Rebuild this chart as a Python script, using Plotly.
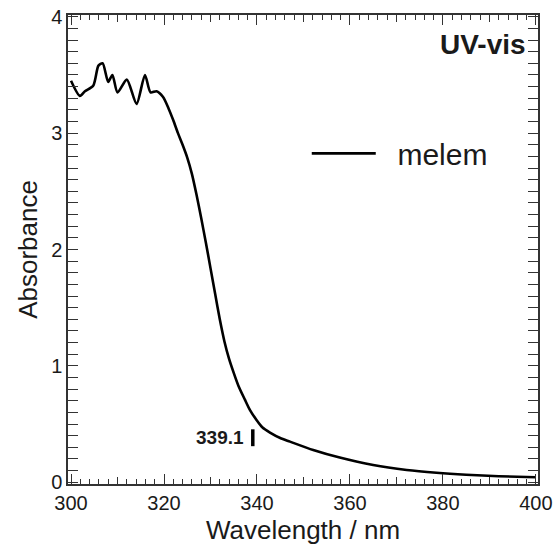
import plotly.graph_objects as go

# UV-vis absorption spectrum of melem
wavelength = [300.0, 301.9, 303.0, 304.8, 305.9, 306.8, 308.0, 308.9, 310.0, 312.0,
              314.1, 315.9, 317.1, 318.4, 319.8, 321.0, 322.0, 323.0, 324.0, 325.0,
              326.0, 327.0, 328.0, 329.0, 330.0, 331.0, 332.0, 333.0, 334.0, 335.0,
              336.0, 337.4, 338.5, 339.9, 341.2, 342.8, 345.0, 347.1, 352.1, 357.8,
              365.0, 372.2, 378.6, 385.0, 392.0, 400.0]
absorbance = [3.45, 3.32, 3.36, 3.41, 3.58, 3.60, 3.44, 3.50, 3.35, 3.46,
              3.25, 3.50, 3.35, 3.36, 3.31, 3.21, 3.11, 3.00, 2.90, 2.79,
              2.65, 2.47, 2.27, 2.06, 1.84, 1.62, 1.40, 1.21, 1.06, 0.94,
              0.83, 0.71, 0.62, 0.535, 0.47, 0.427, 0.38, 0.349, 0.277, 0.212,
              0.148, 0.106, 0.082, 0.065, 0.052, 0.043]

edge_wavelength = 339.1
edge_label = "339.1"
edge_bar = [0.31, 0.455]

x_range = [299.35, 400.45]
y_range = [-0.015, 4.015]

FONT = "Arial, Liberation Sans, Helvetica, sans-serif"
INK = "#1a1a1a"

fig = go.Figure()
fig.add_trace(go.Scatter(
    x=wavelength, y=absorbance, mode="lines", name="\u00a0\u00a0melem",
    line=dict(color="black", width=2.6, shape="spline", smoothing=0.7),
))
# invisible helper so the 10 nm tick axis gets drawn
fig.add_trace(go.Scatter(
    x=[x_range[0]], y=[y_range[0]], xaxis="x2", mode="markers",
    marker=dict(opacity=0), showlegend=False, hoverinfo="skip",
))

# absorption edge marker
fig.add_shape(type="line", x0=edge_wavelength, x1=edge_wavelength,
              y0=edge_bar[0], y1=edge_bar[1], line=dict(color="black", width=3.5))
fig.add_annotation(x=edge_wavelength, y=sum(edge_bar) / 2, text=f"<b>{edge_label}</b>",
                   showarrow=False, xanchor="right", yanchor="middle", xshift=-7,
                   font=dict(family=FONT, size=19, color=INK))
fig.add_annotation(xref="paper", yref="paper", x=0.978, y=0.937, text="<b>UV-vis</b>",
                   showarrow=False, xanchor="right", yanchor="middle",
                   font=dict(family=FONT, size=28, color=INK))

axis_common = dict(
    showline=True, linecolor="#333333", linewidth=1.5, mirror="allticks",
    ticks="inside", tickcolor="#333333", tickwidth=1.3, ticklen=10,
    showgrid=False, zeroline=False, automargin=False,
    tickfont=dict(family=FONT, size=20, color=INK),
)

fig.update_layout(
    width=554, height=551,
    margin=dict(l=68, r=16, t=15, b=67),
    paper_bgcolor="white", plot_bgcolor="white",
    font=dict(family=FONT, color=INK),
    xaxis=dict(
        range=x_range, dtick=20, tick0=300,
        minor=dict(dtick=2, ticks="inside", ticklen=5, tickcolor="#333333", tickwidth=1.2),
        title=dict(text="Wavelength / nm", font=dict(family=FONT, size=26, color=INK), standoff=8),
        **axis_common,
    ),
    xaxis2=dict(
        range=x_range, overlaying="x", anchor="y", side="bottom", dtick=10, tick0=300,
        ticks="inside", ticklen=7, tickcolor="#333333", tickwidth=1.2,
        showticklabels=False, showline=False, showgrid=False, zeroline=False,
        mirror="allticks", automargin=False,
    ),
    yaxis=dict(
        range=y_range, dtick=1, tick0=0,
        minor=dict(dtick=0.1, ticks="inside", ticklen=6, tickcolor="#333333", tickwidth=1.2),
        title=dict(text="Absorbance", font=dict(family=FONT, size=26, color=INK), standoff=6),
        **axis_common,
    ),
    showlegend=True,
    legend=dict(
        x=0.508, y=0.705, xanchor="left", yanchor="middle",
        bgcolor="rgba(0,0,0,0)", itemwidth=64,
        font=dict(family=FONT, size=30, color=INK),
    ),
)

fig.write_html("out.html")
